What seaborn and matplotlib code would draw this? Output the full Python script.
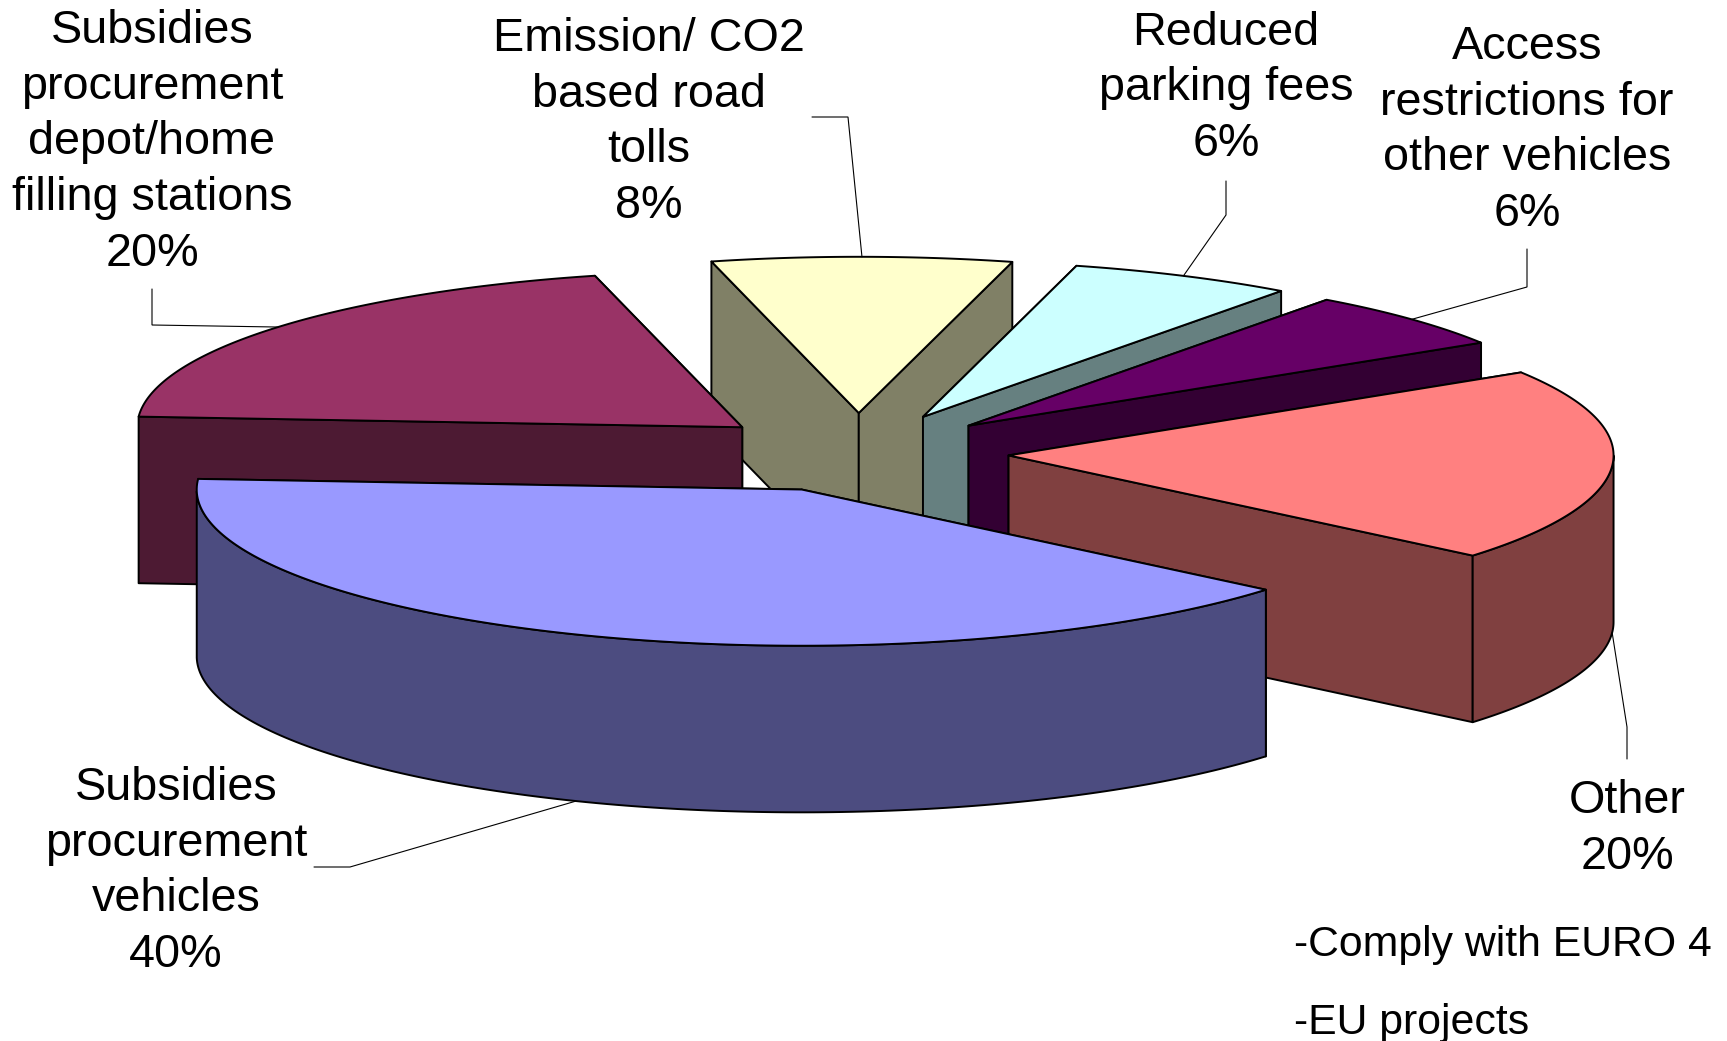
import numpy as np
import matplotlib
matplotlib.use("Agg")
import matplotlib.pyplot as plt
import seaborn as sns

# Slices in drawing sequence, counter-clockwise from the start angle
categories = [
    "Other",
    "Access\nrestrictions for\nother vehicles",
    "Reduced\nparking fees",
    "Emission/ CO2\nbased road\ntolls",
    "Subsidies\nprocurement\ndepot/home\nfilling stations",
    "Subsidies\nprocurement\nvehicles",
]
values = [20, 6, 6, 8, 20, 40]
top_colors = ["#FF8080", "#660066", "#CCFFFF", "#FFFFCC", "#993366", "#9999FF"]
side_colors = ["#804040", "#330033", "#668080", "#808066", "#4D1A33", "#4C4C80"]
notes = ["-Comply with EURO 4", "-EU projects"]

# Pie geometry in figure pixels
START_ANGLE = -39.9
CX, CY = 858.0, 452.7
RX, RY = 605.0, 156.2
DEPTH = 166.6
EXPLODE_X, EXPLODE_Y = 150.9, 39.7

# Centre of each label block, and the bend points of its leader line
label_xy = [(1627, 829.0), (1527, 130.4), (1226, 88.4), (649, 122.4), (152, 142.5), (176, 871.4)]
leader_bends = [
    [(1627, 727), (1627, 759)],
    [(1527, 287), (1527, 249)],
    [(1226, 215), (1226, 181)],
    [(848, 117), (812, 117)],
    [(152, 325), (152, 289)],
    [(350, 867), (314, 867)],
]
drawing_order = [3, 2, 1, 4, 0, 5]

sns.set_theme(style="white")
plt.rcParams["font.family"] = ["Liberation Sans", "DejaVu Sans"]
palette_top = sns.color_palette(top_colors)
palette_side = sns.color_palette(side_colors)

fig, ax = plt.subplots(figsize=(17.27, 10.41), dpi=100)
ax.set_position([0, 0, 1, 1])
ax.set_xlim(0, 1727)
ax.set_ylim(1041, 0)
ax.axis("off")

edge = dict(edgecolor="black", linewidth=1.4, joinstyle="round")


def rim(ax0, ay0, angles):
    rad = np.radians(angles)
    return ax0 + RX * np.cos(rad), ay0 - RY * np.sin(rad)


spans = 360 * np.array(values) / sum(values)
starts = START_ANGLE + np.concatenate([[0], np.cumsum(spans)[:-1]])

apexes, mids = [], []
for a0, span in zip(starts, spans):
    mid = np.radians(a0 + span / 2)
    apexes.append((CX + EXPLODE_X * np.cos(mid), CY - EXPLODE_Y * np.sin(mid)))
    mids.append(a0 + span / 2)

for i in drawing_order:
    a0, a1 = starts[i], starts[i] + spans[i]
    px, py = apexes[i]
    angles = np.linspace(a0, a1, 160)
    x, y = rim(px, py, angles)

    # Radial walls, the one further back first
    walls = sorted([(x[0], y[0]), (x[-1], y[-1])], key=lambda p: p[1])
    for xe, ye in walls:
        ax.fill([px, xe, xe, px], [py, ye, ye + DEPTH, py + DEPTH],
                facecolor=palette_side[i], **edge)

    # Outer wall, only the part facing the viewer
    s = np.sin(np.radians(angles)) <= 0
    if s.any():
        wx, wy = x[s], y[s]
        ax.fill(np.r_[wx, wx[::-1]], np.r_[wy, wy[::-1] + DEPTH],
                facecolor=palette_side[i], **edge)

    # Top face
    ax.fill(np.r_[px, x], np.r_[py, y], facecolor=palette_top[i], **edge)

# Leader lines run from the middle of each slice's rim
for i in range(len(values)):
    xm, ym = rim(*apexes[i], mids[i])
    if np.sin(np.radians(mids[i])) < 0:
        ym += DEPTH
    bx, by = zip(*leader_bends[i])
    ax.plot((xm,) + bx, (ym,) + by, color="black", lw=0.8, solid_joinstyle="miter")

for name, val, (tx, ty) in zip(categories, values, label_xy):
    ax.text(tx, ty, f"{name}\n{val}%", ha="center", va="center",
            fontsize=33.7, color="black", linespacing=1.345)

ax.text(1294, 945, notes[0], ha="left", va="center", fontsize=30.8, color="black")
ax.text(1294, 1023.3, notes[1], ha="left", va="center", fontsize=30.8, color="black")

fig.savefig("out.png", dpi=100, facecolor="white")
